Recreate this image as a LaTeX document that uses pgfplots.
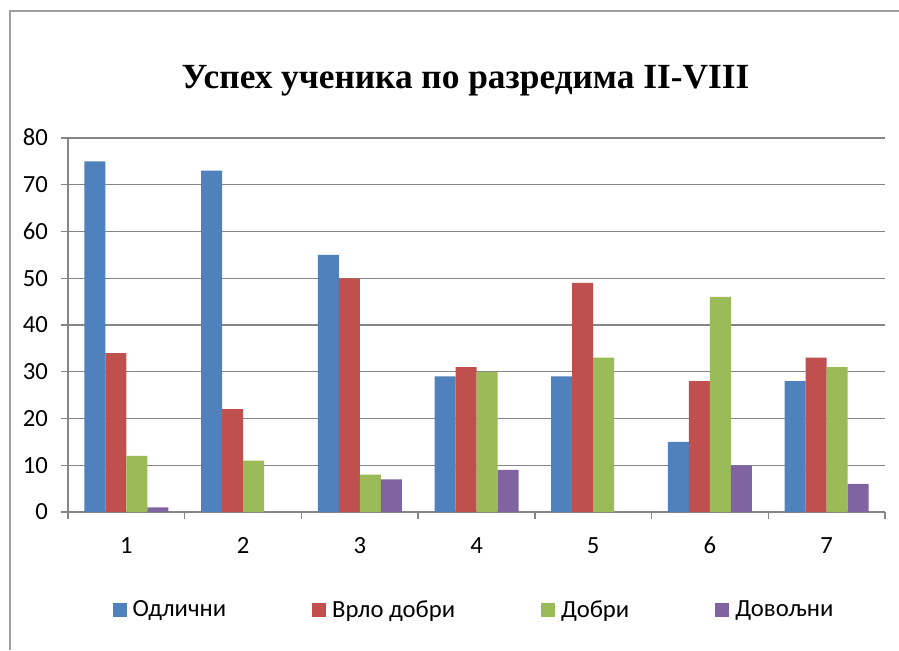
\documentclass[border=0pt]{standalone}
\usepackage{fontspec}
\setmainfont{Carlito}
\newfontfamily\titlefont{Liberation Serif}
\usepackage{pgfplots}
\pgfplotsset{compat=1.18}
\definecolor{cblue}{HTML}{4F81BD}
\definecolor{cred}{HTML}{C0504D}
\definecolor{cgreen}{HTML}{9BBB59}
\definecolor{cpurple}{HTML}{8064A2}
\definecolor{gridgray}{HTML}{868686}
\definecolor{framegray}{HTML}{A0A0A0}
\begin{document}
\begin{tikzpicture}
\useasboundingbox (0,0) rectangle (674.25pt,487.5pt);
\draw[framegray, line width=1pt] (7.5pt,0pt) -- (7.5pt,479.25pt) -- (674.25pt,479.25pt);
\node[anchor=base, font=\titlefont\bfseries\fontsize{26.5}{30}\selectfont] at (349.1pt,420.75pt) {Успех ученика по разредима II-VIII};
\begin{axis}[
  at={(51pt,103.5pt)}, anchor=south west,
  scale only axis, width=612.75pt, height=280.5pt,
  ybar=0pt, bar width=15.75pt,
  xmin=-0.5, xmax=6.5, ymin=0, ymax=80,
  axis x line*=bottom, axis y line*=left,
  axis line style={-, gridgray, line width=1.1pt},
  xtick={-0.5,0.5,...,6.5}, xticklabels={},
  extra x ticks={0,1,2,3,4,5,6},
  extra x tick labels={1,2,3,4,5,6,7},
  extra x tick style={major tick length=0pt, grid=none},
  ytick={0,10,...,80},
  tick align=outside, major tick length=5pt,
  tick style={gridgray, line width=1.1pt},
  ymajorgrids, grid style={gridgray, line width=1.1pt},
  ticklabel style={font=\fontsize{18.5}{22}\selectfont, text=black},
  typeset ticklabels with strut,
  /pgf/number format/assume math mode=true,
  yticklabel style={xshift=-6.5pt, yshift=-1.5pt},
  xticklabel style={yshift=-12pt},
  legend columns=4,
  legend style={draw=none, at={(0.4957,-0.262)}, anchor=center,
    font=\fontsize{18.5}{22}\selectfont, inner sep=0pt,
    nodes={inner sep=0pt},
    /tikz/every odd column/.append style={column sep=4.5pt},
    /tikz/every even column/.append style={column sep=64.5pt}},
  legend image code/.code={\fill[#1, draw=none] (0pt,-5.25pt) rectangle (10.5pt,5.25pt);},
]
\addplot[fill=cblue, draw=none] coordinates {(0,75) (1,73) (2,55) (3,29) (4,29) (5,15) (6,28)};
\addplot[fill=cred, draw=none] coordinates {(0,34) (1,22) (2,50) (3,31) (4,49) (5,28) (6,33)};
\addplot[fill=cgreen, draw=none] coordinates {(0,12) (1,11) (2,8) (3,30) (4,33) (5,46) (6,31)};
\addplot[fill=cpurple, draw=none] coordinates {(0,1) (1,0) (2,7) (3,9) (4,0) (5,10) (6,6)};
\legend{Одлични, Врло добри, Добри, Довољни}
\end{axis}
\end{tikzpicture}
\end{document}
